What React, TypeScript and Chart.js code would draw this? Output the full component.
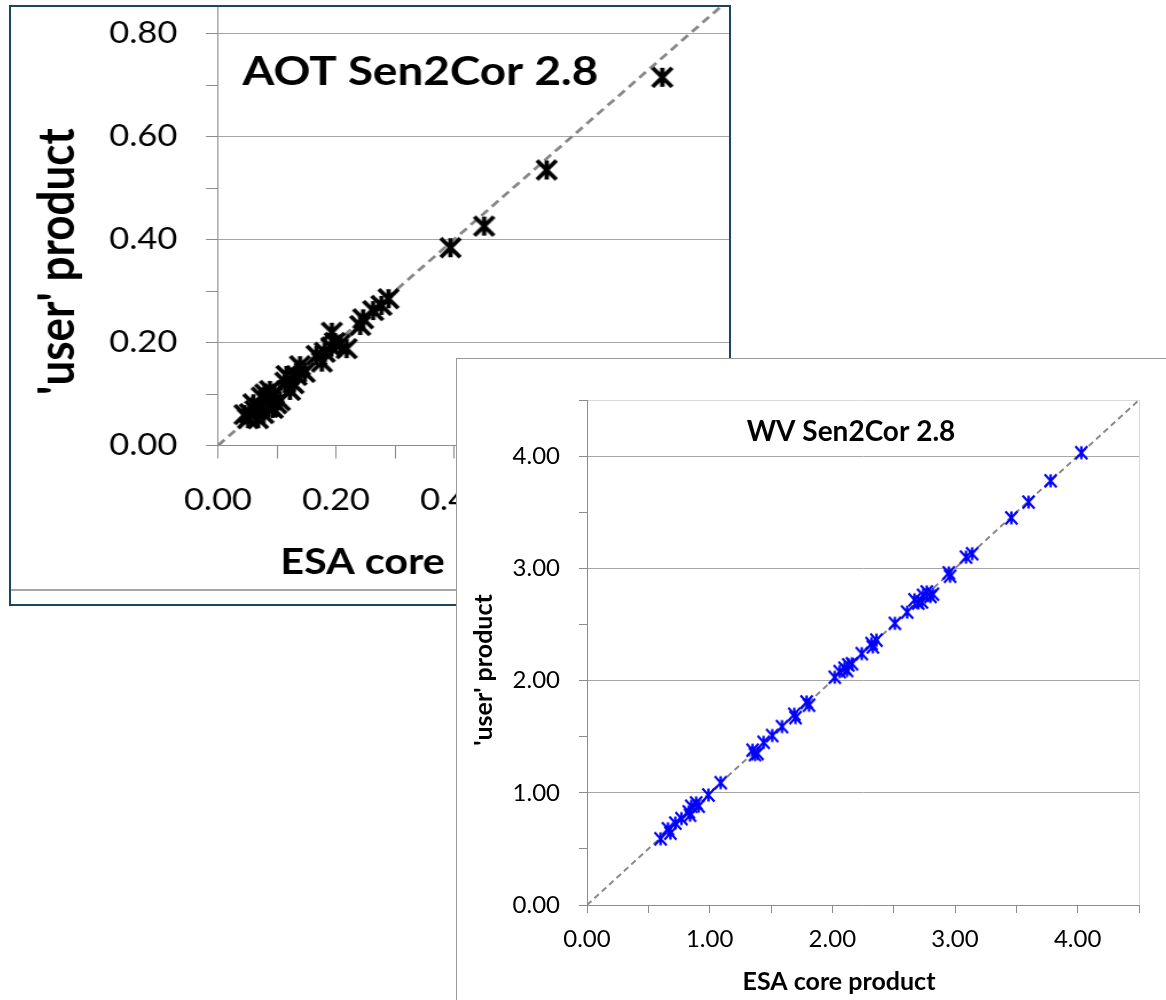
import React, { useEffect, useRef } from 'react';
import { Chart, registerables } from 'chart.js';

Chart.register(...registerables);

// ---------- AOT panel data ----------
const aotEsa = [0.753, 0.557, 0.451, 0.394, 0.289, 0.277, 0.263, 0.246, 0.241, 0.193, 0.207, 0.198, 0.218, 0.192, 0.181, 0.167, 0.176, 0.139, 0.147, 0.133, 0.116, 0.128, 0.114, 0.122, 0.083, 0.091, 0.099, 0.071, 0.063, 0.054, 0.077, 0.068, 0.051, 0.085, 0.093, 0.105, 0.074, 0.088, 0.060, 0.045, 0.080, 0.095];
const aotUser = [0.715, 0.535, 0.426, 0.384, 0.285, 0.272, 0.262, 0.246, 0.233, 0.220, 0.197, 0.200, 0.188, 0.191, 0.181, 0.175, 0.162, 0.155, 0.142, 0.136, 0.136, 0.120, 0.123, 0.107, 0.087, 0.094, 0.081, 0.074, 0.068, 0.062, 0.062, 0.052, 0.052, 0.074, 0.072, 0.087, 0.094, 0.107, 0.081, 0.060, 0.100, 0.100];
const aotTickLabels = ['0.00', '0.20', '0.40', '0.60', '0.80'];
const aotRange = [0, 0.9];
const aotStep = 0.1;
const aotOneToOne = [0, 1];
const aotTitle = 'AOT Sen2Cor 2.8';

// ---------- WV panel data ----------
const wvEsa = [0.60, 0.66, 0.68, 0.72, 0.77, 0.83, 0.85, 0.84, 0.89, 0.91, 0.99, 1.09, 1.35, 1.37, 1.39, 1.44, 1.51, 1.59, 1.69, 1.70, 1.79, 1.81, 2.02, 2.06, 2.10, 2.13, 2.16, 2.12, 2.24, 2.32, 2.33, 2.36, 2.51, 2.61, 2.67, 2.70, 2.73, 2.74, 2.77, 2.80, 2.82, 2.95, 2.96, 3.09, 3.14, 3.46, 3.60, 3.78, 4.03];
const wvUser = [0.59, 0.68, 0.64, 0.73, 0.77, 0.83, 0.88, 0.80, 0.91, 0.88, 0.98, 1.09, 1.38, 1.34, 1.35, 1.45, 1.51, 1.59, 1.70, 1.67, 1.81, 1.78, 2.03, 2.08, 2.11, 2.14, 2.15, 2.09, 2.24, 2.33, 2.30, 2.36, 2.51, 2.61, 2.72, 2.69, 2.70, 2.76, 2.79, 2.75, 2.77, 2.96, 2.93, 3.10, 3.13, 3.45, 3.59, 3.78, 4.03];
const wvTickLabels = ['0.00', '1.00', '2.00', '3.00', '4.00'];
const wvRange = [0, 4.5];
const wvStep = 0.5;
const wvOneToOne = [0, 4.5];
const wvTitle = 'WV Sen2Cor 2.8';

const xTitle = 'ESA core product';
const yTitle = "'user' product";

const STRETCH = 1.146;

const lookup = (labels: string[], v: number) =>
  labels.find((l) => Math.abs(parseFloat(l) - v) < 1e-6) ?? '';
const isLabelled = (labels: string[], v: number) =>
  labels.some((l) => Math.abs(parseFloat(l) - v) < 1e-6);

function makeStar(w: number, h: number, lw: number, color: string) {
  const c = document.createElement('canvas');
  const pad = lw + 1;
  c.width = Math.ceil(w + 2 * pad);
  c.height = Math.ceil(h + 2 * pad);
  const g = c.getContext('2d')!;
  g.strokeStyle = color;
  g.lineWidth = lw;
  const cx = c.width / 2;
  const cy = c.height / 2;
  g.beginPath();
  g.moveTo(cx - w / 2, cy - h / 2);
  g.lineTo(cx + w / 2, cy + h / 2);
  g.moveTo(cx + w / 2, cy - h / 2);
  g.lineTo(cx - w / 2, cy + h / 2);
  g.moveTo(cx, cy - h / 2);
  g.lineTo(cx, cy + h / 2);
  g.stroke();
  return c;
}

const textPlugin = {
  id: 'panelText',
  afterDraw(chart: any, _args: any, opts: any) {
    const ctx = chart.ctx;
    for (const t of opts.items || []) {
      ctx.save();
      ctx.font = t.font;
      ctx.fillStyle = t.color || '#000';
      ctx.textAlign = t.align || 'left';
      ctx.textBaseline = t.baseline || 'alphabetic';
      ctx.translate(t.x, t.y);
      if (t.rotate) ctx.rotate(t.rotate);
      ctx.fillText(t.text, 0, 0);
      ctx.restore();
    }
  },
};

export default function App() {
  const aotRef = useRef<HTMLCanvasElement>(null);
  const wvRef = useRef<HTMLCanvasElement>(null);

  useEffect(() => {
    let charts: Chart[] = [];
    let cancelled = false;
    const build = () => {
      if (cancelled || !aotRef.current || !wvRef.current) return;
      const axisGray = '#8c8c8c';
      const gridGray = '#a6a6a6';

      // ---------- AOT ----------
      const aotStar = makeStar(17, 19, 3.8, '#000');
      const aot = new Chart(aotRef.current, {
        type: 'scatter',
        data: {
          datasets: [
            {
              data: aotEsa.map((x, i) => ({ x, y: aotUser[i] })),
              pointStyle: aotStar as any,
              pointRadius: 8,
              order: 1,
            },
            {
              data: aotOneToOne.map((v) => ({ x: v, y: v })),
              showLine: true,
              borderColor: '#888888',
              borderWidth: 2.8,
              borderDash: [8, 5],
              pointRadius: 0,
              order: 2,
            } as any,
          ],
        },
        options: {
          responsive: false,
          animation: false,
          devicePixelRatio: 1,
          layout: { autoPadding: false, padding: { left: 0, top: 45, right: 40, bottom: 0 } },
          plugins: {
            legend: { display: false },
            tooltip: { enabled: false },
            panelText: {
              items: [
                { text: aotTitle, x: 202, y: 147.5, font: 'bold 40px Lato' },
                { text: xTitle, x: 235, y: 636.5, font: 'bold 36px Lato' },
                { text: yTitle, x: 41, y: 324.5, font: 'bold 44px Lato', align: 'center', baseline: 'middle', rotate: -Math.PI / 2 },
              ],
            },
          } as any,
          scales: {
            x: {
              type: 'linear',
              min: aotRange[0],
              max: aotRange[1],
              afterFit: (s: any) => { s.height = 159.5; },
              ticks: {
                stepSize: aotStep,
                autoSkip: false,
                maxRotation: 0,
                padding: 24,
                color: '#000',
                font: { family: 'Lato', size: 30 },
                callback: (v: any) => lookup(aotTickLabels, Number(v)),
              },
              grid: { drawOnChartArea: false, tickLength: 13, tickColor: axisGray },
              border: { color: axisGray, width: 1 },
            },
            y: {
              type: 'linear',
              min: aotRange[0],
              max: aotRange[1],
              afterFit: (s: any) => { s.width = 180.6; },
              ticks: {
                stepSize: aotStep,
                autoSkip: false,
                padding: 25,
                color: '#000',
                font: { family: 'Lato', size: 30 },
                callback: (v: any) => lookup(aotTickLabels, Number(v)),
              },
              grid: {
                color: (c: any) => (isLabelled(aotTickLabels, c.tick.value) ? gridGray : 'rgba(0,0,0,0)'),
                tickColor: axisGray,
                tickLength: 10.5,
              },
              border: { color: axisGray, width: 1 },
            },
          },
        },
        plugins: [textPlugin as any],
      });

      // ---------- WV ----------
      const wvStar = makeStar(12, 13, 2.4, '#0000ff');
      const wv = new Chart(wvRef.current, {
        type: 'scatter',
        data: {
          datasets: [
            {
              data: wvEsa.map((x, i) => ({ x, y: wvUser[i] })),
              pointStyle: wvStar as any,
              pointRadius: 6,
              order: 1,
            },
            {
              data: wvOneToOne.map((v) => ({ x: v, y: v })),
              showLine: true,
              borderColor: '#8a8a8a',
              borderWidth: 2,
              borderDash: [6, 4],
              pointRadius: 0,
              order: 2,
            } as any,
          ],
        },
        options: {
          responsive: false,
          animation: false,
          devicePixelRatio: 1,
          layout: { autoPadding: false, padding: { left: 0, top: 41, right: 27, bottom: 0 } },
          plugins: {
            legend: { display: false },
            tooltip: { enabled: false },
            panelText: {
              items: [
                { text: wvTitle, x: 394, y: 82, font: 'bold 28px Lato', align: 'center' },
                { text: xTitle, x: 382, y: 631, font: 'bold 25px Lato', align: 'center' },
                { text: yTitle, x: 27, y: 311, font: 'bold 25px Lato', align: 'center', baseline: 'middle', rotate: -Math.PI / 2 },
              ],
            },
          } as any,
          scales: {
            x: {
              type: 'linear',
              min: wvRange[0],
              max: wvRange[1],
              afterFit: (s: any) => { s.height = 95; },
              ticks: {
                stepSize: wvStep,
                autoSkip: false,
                maxRotation: 0,
                padding: 12,
                color: '#000',
                font: { family: 'Lato', size: 24 },
                callback: (v: any) => lookup(wvTickLabels, Number(v)),
              },
              grid: {
                color: (c: any) => (Math.abs(c.tick.value - wvRange[1]) < 1e-6 ? '#d9d9d9' : 'rgba(0,0,0,0)'),
                tickColor: axisGray,
                tickLength: 8,
              },
              border: { color: axisGray, width: 1 },
            },
            y: {
              type: 'linear',
              min: wvRange[0],
              max: wvRange[1],
              afterFit: (s: any) => { s.width = 130; },
              ticks: {
                stepSize: wvStep,
                autoSkip: false,
                padding: 19,
                color: '#000',
                font: { family: 'Lato', size: 24 },
                callback: (v: any) => lookup(wvTickLabels, Number(v)),
              },
              grid: {
                color: (c: any) =>
                  Math.abs(c.tick.value - wvRange[1]) < 1e-6
                    ? '#d9d9d9'
                    : isLabelled(wvTickLabels, c.tick.value)
                    ? gridGray
                    : 'rgba(0,0,0,0)',
                tickColor: axisGray,
                tickLength: 8,
              },
              border: { color: axisGray, width: 1 },
            },
          },
        },
        plugins: [textPlugin as any],
      });
      charts = [aot, wv];
    };

    const fontsReady = (document as any).fonts
      ? Promise.all([
          (document as any).fonts.load('30px Lato'),
          (document as any).fonts.load('bold 30px Lato'),
        ]).catch(() => null)
      : Promise.resolve();
    fontsReady.then(build);

    return () => {
      cancelled = true;
      charts.forEach((c) => c.destroy());
    };
  }, []);

  return (
    <div style={{ position: 'absolute', left: 0, top: 0, width: 1166, height: 1000, background: '#fff', overflow: 'hidden' }}>
      <div
        style={{
          position: 'absolute',
          left: 9,
          top: 5,
          width: 718,
          height: 597,
          border: '2px solid #1e4560',
          overflow: 'hidden',
          background: '#fff',
        }}
      >
        <div style={{ position: 'absolute', left: 0, top: -70.5, transform: `scaleX(${STRETCH})`, transformOrigin: '0 0' }}>
          <canvas ref={aotRef} width={684} height={668} style={{ display: 'block' }} />
        </div>
        <div style={{ position: 'absolute', left: 0, top: 582, width: '100%', height: 2, background: '#a5a5a5' }} />
      </div>
      <div
        style={{
          position: 'absolute',
          left: 456,
          top: 358,
          width: 709,
          height: 641,
          borderLeft: '1px solid #9a9a9a',
          borderTop: '1px solid #9a9a9a',
          background: '#fff',
        }}
      >
        <canvas ref={wvRef} width={709} height={641} style={{ display: 'block' }} />
      </div>
    </div>
  );
}
